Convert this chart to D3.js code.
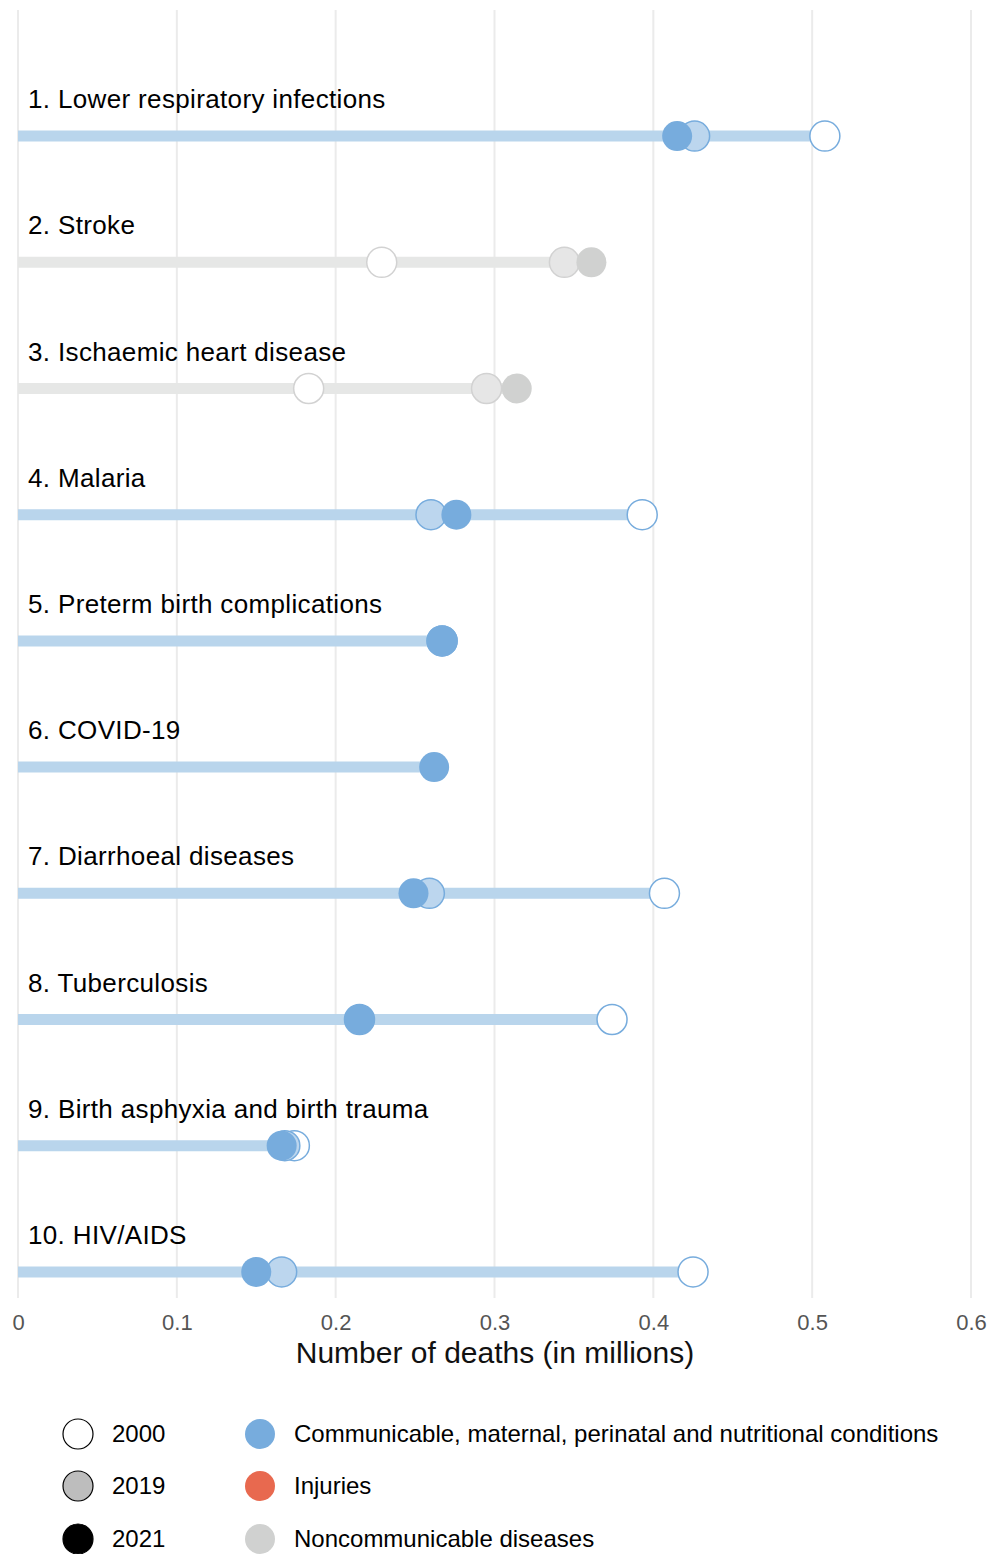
<!DOCTYPE html>
<html>
<head>
<meta charset="utf-8">
<script src="https://cdn.jsdelivr.net/npm/d3@7"></script>
<style>
  body { margin: 0; background: #fff; }
  text { font-family: "Liberation Sans", Arial, sans-serif; }
</style>
</head>
<body>
<div id="chart"></div>
<script>
// Data (deaths in millions)
const causes = [
    "1. Lower respiratory infections",
    "2. Stroke",
    "3. Ischaemic heart disease",
    "4. Malaria",
    "5. Preterm birth complications",
    "6. COVID-19",
    "7. Diarrhoeal diseases",
    "8. Tuberculosis",
    "9. Birth asphyxia and birth trauma",
    "10. HIV/AIDS"
];
const groups = ["comm", "ncd", "ncd", "comm", "comm", "comm", "comm", "comm", "comm", "comm"];
const deaths2000 = [0.508, 0.229, 0.183, 0.393, 0.267, null, 0.407, 0.374, 0.174, 0.425];
const deaths2019 = [0.426, 0.344, 0.295, 0.260, 0.267, null, 0.259, 0.215, 0.168, 0.166];
const deaths2021 = [0.415, 0.361, 0.314, 0.276, 0.267, 0.262, 0.249, 0.215, 0.166, 0.150];
const xTicks = [0, 0.1, 0.2, 0.3, 0.4, 0.5, 0.6];
const yearLegend = ["2000", "2019", "2021"];
const groupLegend = ["Communicable, maternal, perinatal and nutritional conditions", "Injuries", "Noncommunicable diseases"];

const width = 990, height = 1554;

const palette = {
    comm: { bar: "#b9d5ec", stroke: "#77acdd", c2000: "#ffffff", c2019: "#bcd6ee", c2021: "#77acdd" },
    ncd:  { bar: "#e6e7e6", stroke: "#d2d2d2", c2000: "#ffffff", c2019: "#e6e6e6", c2021: "#d0d1d0" }
};

const rows = causes.map((c, i) => ({
    cause: c, group: groups[i],
    v2000: deaths2000[i], v2019: deaths2019[i], v2021: deaths2021[i]
}));

const svg = d3.select("#chart")
    .append("svg")
    .attr("width", width)
    .attr("height", height);

const x = d3.scaleLinear().domain([0, 0.6]).range([18, 971]);
const y = d3.scaleBand().domain(causes).range([73, 1335]).paddingInner(0);
const yc = d => y(d) + y.bandwidth() / 2;

// Grid
svg.append("g")
    .selectAll("line")
    .data(xTicks)
    .enter()
    .append("line")
    .attr("x1", d => x(d)).attr("x2", d => x(d))
    .attr("y1", 10).attr("y2", 1298)
    .attr("stroke", "#ebebeb")
    .attr("stroke-width", 2);

// Axis labels
const axis = d3.axisBottom(x).tickValues(xTicks).tickFormat(d3.format("~g")).tickSize(0);
const axisG = svg.append("g")
    .attr("transform", "translate(0,1311)")
    .call(axis);
axisG.select(".domain").remove();
axisG.selectAll("text")
    .attr("font-size", "22px")
    .attr("fill", "#555")
    .style("font-family", "'Liberation Sans', Arial, sans-serif");

svg.append("text")
    .attr("x", 495).attr("y", 1363)
    .attr("text-anchor", "middle")
    .attr("font-size", "30px")
    .attr("fill", "#111")
    .text("Number of deaths (in millions)");

// Rows
const row = svg.selectAll(".row")
    .data(rows)
    .enter()
    .append("g")
    .attr("class", "row");

row.append("text")
    .attr("x", 28)
    .attr("y", d => yc(d.cause) - 28)
    .attr("font-size", "26px")
    .attr("letter-spacing", "0.35px")
    .attr("fill", "#000")
    .text(d => d.cause);

row.append("line")
    .attr("x1", x(0))
    .attr("x2", d => x(d3.max([d.v2000, d.v2019, d.v2021])))
    .attr("y1", d => yc(d.cause)).attr("y2", d => yc(d.cause))
    .attr("stroke", d => palette[d.group].bar)
    .attr("stroke-width", 11);

const r = 15;
["v2000", "v2019", "v2021"].forEach(key => {
    const yr = key.slice(1);
    row.filter(d => d[key] != null)
        .append("circle")
        .attr("cx", d => x(d[key]))
        .attr("cy", d => yc(d.cause))
        .attr("r", r)
        .attr("fill", d => palette[d.group]["c" + yr])
        .attr("stroke", d => key === "v2021" ? "none" : palette[d.group].stroke)
        .attr("stroke-width", 1.5);
});

// Legend
const yearFill = { "2000": "#ffffff", "2019": "#bdbdbd", "2021": "#000000" };
const groupFill = ["#77acdd", "#e8694f", "#d0d1d0"];
const legY = [1434, 1486, 1539];

const legYears = svg.append("g");
yearLegend.forEach((yr, i) => {
    const g = legYears.append("g").attr("transform", `translate(78, ${legY[i]})`);
    g.append("circle").attr("r", r).attr("fill", yearFill[yr]).attr("stroke", "#000").attr("stroke-width", 1.2);
    g.append("text").attr("x", 34).attr("y", 8).attr("font-size", "24px").text(yr);
});

const legGroups = svg.append("g");
groupLegend.forEach((gname, i) => {
    const g = legGroups.append("g").attr("transform", `translate(260, ${legY[i]})`);
    g.append("circle").attr("r", r).attr("fill", groupFill[i]);
    g.append("text").attr("x", 34).attr("y", 8).attr("font-size", "24px").text(gname);
});
</script>
</body>
</html>
